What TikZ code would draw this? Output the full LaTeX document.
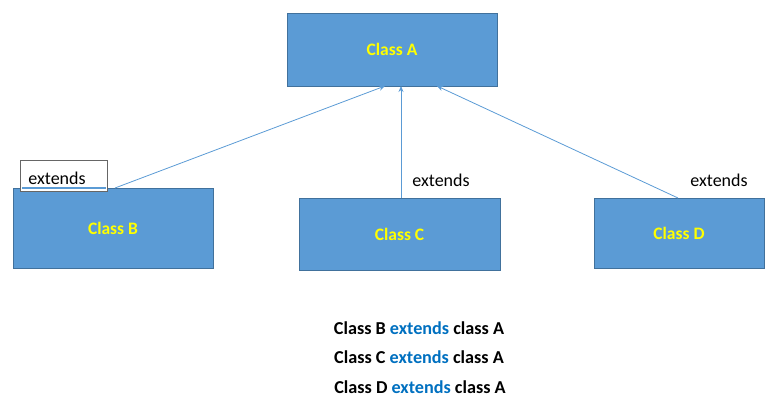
\documentclass[tikz,border=0pt]{standalone}
\usepackage{fontspec}
\setmainfont{Carlito}
\usetikzlibrary{arrows.meta}
\definecolor{boxfill}{HTML}{5B9BD5}
\definecolor{boxline}{HTML}{41719C}
\definecolor{arrowc}{HTML}{5B9BD5}
\definecolor{extblue}{HTML}{0070C0}
\definecolor{ylw}{HTML}{FFFF00}
\tikzset{
  classbox/.style={draw=boxline, fill=boxfill, line width=0.9pt, inner sep=0pt, font=\fontsize{17.5}{20}\selectfont\bfseries, text=ylw},
  inherit/.style={draw=arrowc, line width=0.8pt, -{Stealth[length=6pt,width=5pt]}},
  lbl/.style={font=\fontsize{18}{21}\selectfont, text=black, inner sep=0pt},
  sumline/.style={font=\fontsize{18.2}{21}\selectfont\bfseries, text=black, inner sep=0pt}
}
\begin{document}
\begin{tikzpicture}[x=1pt,y=-1pt]
\useasboundingbox (0,0) rectangle (773,407);
\node[classbox, minimum width=210pt, minimum height=73pt] (A) at (392,49.5) {Class A};
\node[classbox, minimum width=200pt, minimum height=80pt] (B) at (113,228) {Class B};
\node[classbox, minimum width=201pt, minimum height=72pt] (C) at (399.5,234) {Class C};
\node[classbox, minimum width=170pt, minimum height=70pt] (D) at (679,233) {Class D};
\node[draw=gray!80!black, fill=white, line width=0.8pt, minimum width=87pt, minimum height=31pt, inner sep=0pt] (Bl) at (63.5,175.5) {};
\draw[draw=boxfill, line width=1.2pt] (22,188) -- (106,188);
\node[lbl] (Blt) at (57,178) {extends};
\coordinate (Bs) at (115,188);
\coordinate (At1) at (385,86);
\coordinate (Cs) at (401,198);
\coordinate (At2) at (401,86);
\coordinate (Ds) at (678,198);
\coordinate (At3) at (437,86);
\draw[inherit] (Bs) -- (At1);
\draw[inherit] (Cs) -- (At2);
\draw[inherit] (Ds) -- (At3);
\node[lbl] (Cl) at (441,180) {extends};
\node[lbl] (Dl) at (719,180) {extends};
\node[sumline] (s1) at (419,328) {Class B \textcolor{extblue}{extends} class A};
\node[sumline] (s2) at (419,357) {Class C \textcolor{extblue}{extends} class A};
\node[sumline] (s3) at (420,387) {Class D \textcolor{extblue}{extends} class A};
\end{tikzpicture}
\end{document}
